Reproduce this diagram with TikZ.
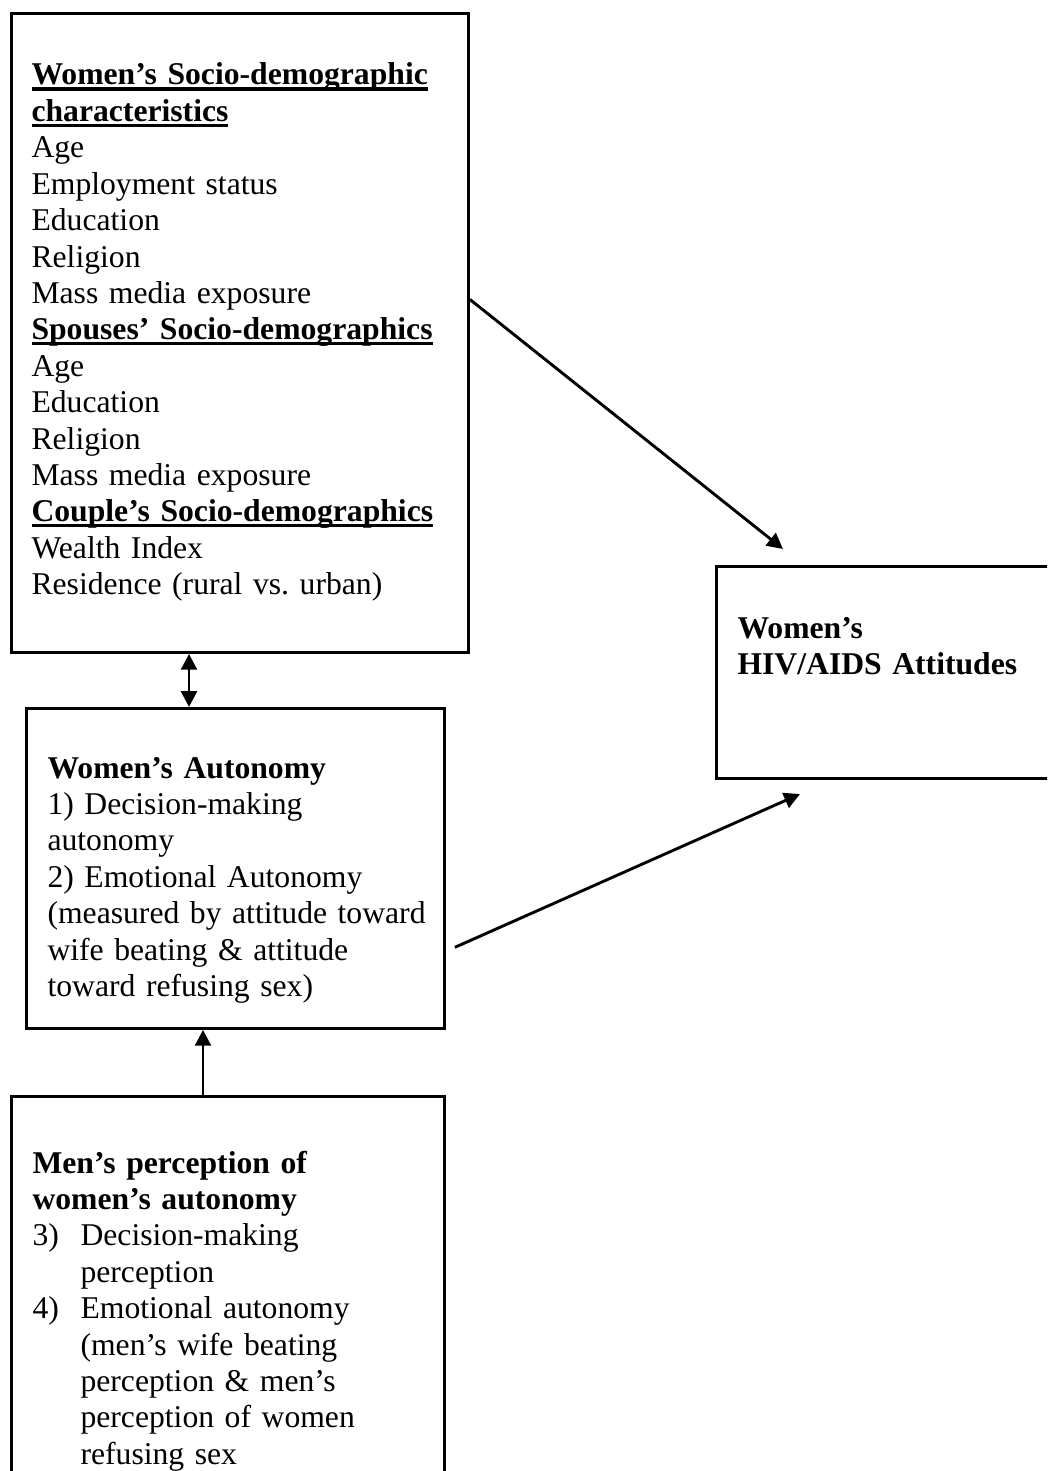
\documentclass[tikz,border=0pt]{standalone}
\usepackage{fontspec}
\setmainfont{Liberation Serif}
\usetikzlibrary{arrows.meta,calc}

\newsavebox{\headbox}
\newcommand{\headul}[1]{\leavevmode\sbox{\headbox}{\bfseries #1}\rlap{\rule[-2.1pt]{\wd\headbox}{1.2pt}}\usebox{\headbox}}
\newcommand{\numitem}[1]{\makebox[18.2pt][l]{#1}}
\newcommand{\hang}{\hspace*{18.2pt}}
\def\pxu{0.379pt}

\tikzset{
  box/.style={draw, line width=1.1pt, inner sep=0pt, anchor=north west},
  boxtext/.style={anchor=base west, inner sep=0pt, align=left, text width=200pt,
    font=\fontsize{12}{13.8}\selectfont},
  link/.style={-{Triangle[length=6pt,width=6pt]}, line width=1.1pt},
  twoway/.style={{Triangle[length=6pt,width=6pt]}-{Triangle[length=6pt,width=6pt]}, line width=1.1pt}
}

\begin{document}
\begin{tikzpicture}[x=\pxu, y=-\pxu]
\clip (0,0) rectangle (1047,1471);

% boxes
\node[box, minimum width=457*\pxu, minimum height=639*\pxu] (socio) at (10,12) {};
\node[box, minimum width=360*\pxu, minimum height=212*\pxu] (attitude) at (715,565) {};
\node[box, minimum width=418*\pxu, minimum height=320*\pxu] (autonomy) at (25,707) {};
\node[box, minimum width=433*\pxu, minimum height=420*\pxu] (menview) at (10,1095) {};

% box texts
\node[boxtext] (sociotxt) at (31,85) {%
\headul{Women’s Socio-demographic}\\
\headul{characteristics}\\
Age\\
Employment status\\
Education\\
Religion\\
Mass media exposure\\
\headul{Spouses’ Socio-demographics}\\
Age\\
Education\\
Religion\\
Mass media exposure\\
\headul{Couple’s Socio-demographics}\\
Wealth Index\\
Residence (rural vs.\ urban)};

\node[boxtext] (attitudetxt) at (737,638) {%
\textbf{Women’s}\\
\textbf{HIV/AIDS Attitudes}};

\node[boxtext] (autonomytxt) at (47,778) {%
\textbf{Women’s Autonomy}\\
1) Decision-making\\
autonomy\\
2) Emotional Autonomy\\
(measured by attitude toward\\
wife beating \& attitude\\
toward refusing sex)};

\node[boxtext] (menviewtxt) at (32,1173) {%
\textbf{Men’s perception of}\\
\textbf{women’s autonomy}\\
\numitem{3)}Decision-making\\
\hang perception\\
\numitem{4)}Emotional autonomy\\
\hang(men’s wife beating\\
\hang perception \& men’s\\
\hang perception of women\\
\hang refusing sex};

% connectors
\coordinate (tipA) at (783,549);
\coordinate (tipB) at (800,794);
\coordinate (dblx) at (189,0);
\coordinate (upx) at (203,0);

\draw[link] ([yshift=12.7pt]socio.east) -- (tipA);
\draw[link] ([xshift=3.4pt,yshift=-29.9pt]autonomy.east) -- (tipB);
\draw[twoway] (dblx |- socio.south) -- (dblx |- autonomy.north);
\draw[link] (upx |- menview.north) -- (upx |- autonomy.south);
\end{tikzpicture}
\end{document}
